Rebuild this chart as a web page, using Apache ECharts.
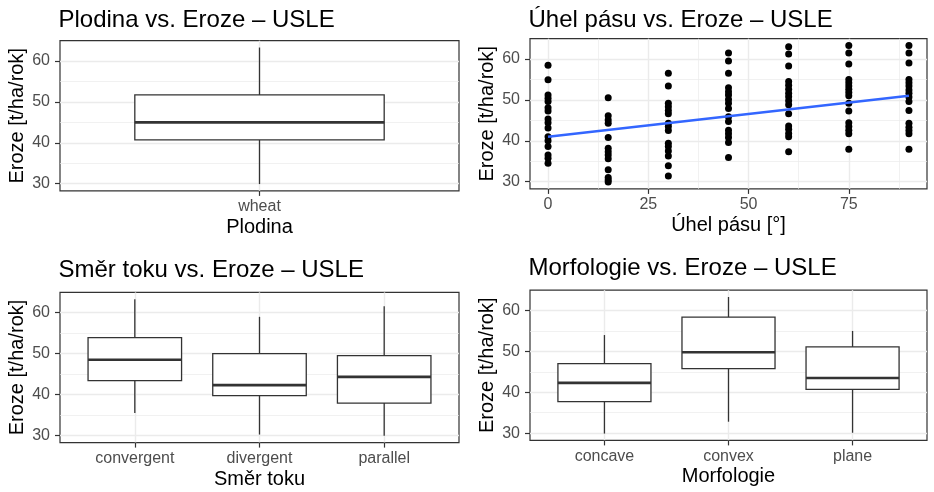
<!DOCTYPE html>
<html>
<head>
<meta charset="utf-8">
<script src="https://cdn.jsdelivr.net/npm/echarts@6/dist/echarts.min.js"></script>
<style>
  html, body { margin: 0; padding: 0; background: #ffffff; }
  #chart { width: 934px; height: 492px; }
</style>
</head>
<body>
<div id="chart"></div>
<script>
// ---- Data -----------------------------------------------------------------
// Box plot summaries per group: [min, Q1, median, Q3, max] of erosion (t/ha/rok)
const cropCategories = ['wheat'];
const cropStats = [
  [29.9, 40.7, 45.0, 51.7, 63.3]
];

const flowCategories = ['convergent', 'divergent', 'parallel'];
const flowStats = [
  [35.5, 43.4, 48.5, 53.9, 63.3],
  [30.2, 39.7, 42.3, 50.0, 59.0],
  [29.9, 37.9, 44.3, 49.5, 61.6]
];

const morphCategories = ['concave', 'convex', 'plane'];
const morphStats = [
  [29.9, 37.7, 42.3, 47.0, 54.0],
  [32.8, 45.8, 49.8, 58.4, 63.3],
  [30.1, 40.7, 43.5, 51.1, 55.0]
];

// Erosion values observed at each strip angle (°)
const stripAngles = [0, 15, 30, 45, 60, 75, 90];
const erosionAngle0 = [58.5, 54.9, 51.2, 50.4, 49.6, 48.1, 47.3, 45.3, 44.4, 43.1, 41.0, 40.0, 38.6, 36.5, 35.7, 34.5];
const erosionAngle15 = [50.5, 46.1, 45.1, 44.3, 40.8, 38.2, 37.3, 36.5, 35.6, 32.9, 31.0, 30.4, 29.9];
const erosionAngle30 = [56.5, 53.4, 49.2, 48.3, 47.4, 46.6, 44.3, 43.5, 42.5, 39.4, 38.6, 37.5, 36.3, 33.9, 31.4];
const erosionAngle45 = [61.5, 59.5, 56.5, 53.0, 52.0, 51.2, 50.1, 49.2, 47.9, 45.9, 44.7, 42.6, 41.7, 40.8, 39.6, 35.9];
const erosionAngle60 = [63.0, 61.2, 58.3, 54.5, 53.6, 52.6, 51.6, 50.8, 49.8, 48.8, 46.6, 43.6, 42.8, 41.8, 41.0, 37.3];
const erosionAngle75 = [63.3, 61.5, 58.8, 55.0, 54.2, 53.4, 52.6, 51.8, 51.0, 49.2, 47.3, 44.4, 43.5, 42.6, 41.7, 37.9];
const erosionAngle90 = [63.3, 61.5, 59.0, 55.0, 54.2, 53.4, 52.4, 51.6, 50.7, 49.6, 47.4, 44.3, 43.3, 42.5, 41.7, 37.9];

// Linear trend of erosion against strip angle (ends of the fitted line)
const trendLine = [[0, 41.0], [90, 51.0]];

// Axis breaks
const erosionTicks = [30, 40, 50, 60];
const erosionMinorTicks = [35, 45, 55];
const angleTicks = [0, 25, 50, 75];
const angleMinorTicks = [12.5, 37.5, 62.5, 87.5];

// ---- Helpers --------------------------------------------------------------
const FONT = 'Liberation Sans, Arial, Helvetica, sans-serif';
const INK = '#333333';
const GRID_COLOR = '#EBEBEB';

// Continuous scale with 5 % padding on both sides
function padRange(values) {
  const lo = Math.min(...values), hi = Math.max(...values);
  const pad = (hi - lo) * 0.05;
  return [lo - pad, hi + pad];
}

const scatterData = [];
const angleColumns = [erosionAngle0, erosionAngle15, erosionAngle30, erosionAngle45,
                      erosionAngle60, erosionAngle75, erosionAngle90];
angleColumns.forEach((col, i) => col.forEach(v => scatterData.push([stripAngles[i], v])));

function statsRange(stats) { return padRange(stats.flat()); }

const panels = [
  { title: 'Plodina vs. Eroze – USLE', xName: 'Plodina', cats: cropCategories, stats: cropStats,
    grid: { left: 60, top: 40.7, width: 399, height: 150.2 }, titleTop: 8.5, xGap: 27 },
  { title: 'Úhel pásu vs. Eroze – USLE', xName: 'Úhel pásu [°]', scatter: true,
    grid: { left: 530, top: 38.7, width: 397, height: 150.2 }, titleTop: 8, xGap: 27 },
  { title: 'Směr toku vs. Eroze – USLE', xName: 'Směr toku', cats: flowCategories, stats: flowStats,
    grid: { left: 60, top: 292.4, width: 399, height: 150.2 }, titleTop: 258.5, xGap: 26.5 },
  { title: 'Morfologie vs. Eroze – USLE', xName: 'Morfologie', cats: morphCategories, stats: morphStats,
    grid: { left: 530, top: 290.2, width: 397, height: 150.2 }, titleTop: 256.8, xGap: 26 }
];

const option = {
  animation: false,
  backgroundColor: '#ffffff',
  textStyle: { fontFamily: FONT },
  title: [], grid: [], xAxis: [], yAxis: [], series: []
};

function boxRenderItem(params, api) {
  const x = api.value(0);
  const lo = api.coord([x, api.value(1)]);
  const q1 = api.coord([x, api.value(2)]);
  const med = api.coord([x, api.value(3)]);
  const q3 = api.coord([x, api.value(4)]);
  const hi = api.coord([x, api.value(5)]);
  const half = api.size([0.75, 0])[0] / 2;
  const thin = { stroke: INK, lineWidth: 1.3, fill: null };
  return {
    type: 'group',
    children: [
      { type: 'line', shape: { x1: lo[0], y1: lo[1], x2: q1[0], y2: q1[1] }, style: thin },
      { type: 'line', shape: { x1: q3[0], y1: q3[1], x2: hi[0], y2: hi[1] }, style: thin },
      { type: 'rect', shape: { x: q3[0] - half, y: q3[1], width: 2 * half, height: q1[1] - q3[1] },
        style: { fill: '#ffffff', stroke: INK, lineWidth: 1.3 } },
      { type: 'line', shape: { x1: med[0] - half, y1: med[1], x2: med[0] + half, y2: med[1] },
        style: { stroke: INK, lineWidth: 2.6 } }
    ]
  };
}

panels.forEach((p, gi) => {
  option.title.push({
    text: p.title, left: p.grid.left - 1.5, top: p.titleTop, padding: 0,
    textStyle: { fontSize: 24, fontWeight: 'normal', color: '#000000', fontFamily: FONT }
  });
  option.grid.push(Object.assign({
    show: true, borderColor: INK, borderWidth: 1.2, backgroundColor: '#ffffff',
    containLabel: false, outerBoundsMode: 'none'
  }, p.grid));

  let xRange, yRange, xMajor, xMinor, xFormatter;
  if (p.scatter) {
    xRange = padRange(stripAngles);
    yRange = padRange(scatterData.map(d => d[1]));
    xMajor = angleTicks; xMinor = angleMinorTicks;
    xFormatter = v => String(v);
  } else {
    xRange = [0.4, p.cats.length + 0.6];
    yRange = statsRange(p.stats);
    xMajor = p.cats.map((c, i) => i + 1); xMinor = null;
    xFormatter = v => p.cats[Math.round(v) - 1];
  }

  // minor grid (x)
  if (xMinor) {
    option.xAxis.push({
      type: 'value', gridIndex: gi, position: 'bottom', offset: 0, min: xRange[0], max: xRange[1],
      axisLine: { show: false }, axisLabel: { show: false },
      axisTick: { show: false, customValues: xMinor },
      splitLine: { show: true, lineStyle: { color: GRID_COLOR, width: 0.7 } }
    });
  }
  // main x axis
  const xIndex = option.xAxis.length;
  option.xAxis.push({
    type: 'value', gridIndex: gi, position: 'bottom', offset: 0, min: xRange[0], max: xRange[1],
    name: p.xName, nameLocation: 'middle', nameGap: p.xGap,
    nameTextStyle: { fontSize: 20, color: '#000000', fontFamily: FONT },
    axisLine: { show: false, onZero: false },
    axisTick: { show: true, length: 5, customValues: xMajor, lineStyle: { color: INK, width: 1.2 } },
    axisLabel: { show: true, margin: 8, customValues: xMajor, formatter: xFormatter,
                 fontSize: 16, color: '#4D4D4D', fontFamily: FONT },
    splitLine: { show: true, lineStyle: { color: GRID_COLOR, width: 1.4 } }
  });
  // minor grid (y)
  option.yAxis.push({
    type: 'value', gridIndex: gi, position: 'left', offset: 0, min: yRange[0], max: yRange[1],
    axisLine: { show: false }, axisLabel: { show: false },
    axisTick: { show: false, customValues: erosionMinorTicks },
    splitLine: { show: true, lineStyle: { color: GRID_COLOR, width: 0.7 } }
  });
  const yIndex = option.yAxis.length;
  option.yAxis.push({
    type: 'value', gridIndex: gi, position: 'left', offset: 0, min: yRange[0], max: yRange[1],
    name: 'Eroze [t/ha/rok]', nameLocation: 'middle', nameGap: 33,
    nameTextStyle: { fontSize: 20, color: '#000000', fontFamily: FONT },
    axisLine: { show: false, onZero: false },
    axisTick: { show: true, length: 5, customValues: erosionTicks, lineStyle: { color: INK, width: 1.2 } },
    axisLabel: { show: true, margin: 10, customValues: erosionTicks,
                 fontSize: 16, color: '#4D4D4D', fontFamily: FONT },
    splitLine: { show: true, lineStyle: { color: GRID_COLOR, width: 1.4 } }
  });

  if (p.scatter) {
    option.series.push({
      type: 'scatter', xAxisIndex: xIndex, yAxisIndex: yIndex,
      data: scatterData, symbol: 'circle', symbolSize: 7,
      itemStyle: { color: '#000000', opacity: 1 }, silent: true
    });
    option.series.push({
      type: 'line', xAxisIndex: xIndex, yAxisIndex: yIndex,
      data: trendLine, showSymbol: false, symbol: 'none',
      lineStyle: { color: '#3366FF', width: 2.4 }, silent: true, z: 3
    });
  } else {
    option.series.push({
      type: 'custom', xAxisIndex: xIndex, yAxisIndex: yIndex,
      data: p.stats.map((s, i) => [i + 1].concat(s)),
      encode: { x: 0, y: [1, 2, 3, 4, 5] },
      renderItem: boxRenderItem, silent: true
    });
  }
});

const chart = echarts.init(document.getElementById('chart'), null, { renderer: 'canvas' });
chart.setOption(option);
</script>
</body>
</html>
